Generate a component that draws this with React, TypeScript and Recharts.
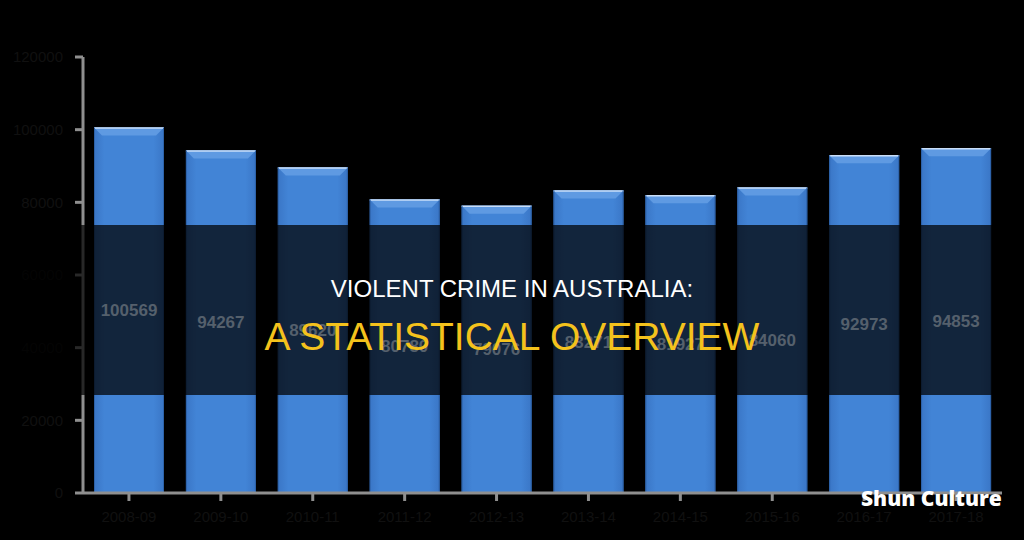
import React from 'react';
import { Bar, BarChart, LabelList, XAxis, YAxis } from 'recharts';

const years = ['2008-09', '2009-10', '2010-11', '2011-12', '2012-13', '2013-14', '2014-15', '2015-16', '2016-17', '2017-18'];
const victims = [100569, 94267, 89620, 80780, 79076, 83271, 81927, 84060, 92973, 94853];
const yTicks = [0, 20000, 40000, 60000, 80000, 100000, 120000];

const data = years.map((year, i) => ({ year, victims: victims[i] }));

const W = 1024;
const H = 540;
const margin = { top: 57, right: 22, bottom: 0, left: 0 };
const axisGray = '#8f8f8f';
const tickInk = '#101010';

// bevelled blue bar, roughly like the office-style 3D preset
function BevelBar(props: any) {
  const { x, y, width, height } = props;
  if (!height || height <= 0) return null;
  const b = 8;
  return (
    <g>
      <rect x={x} y={y} width={width} height={height} fill="url(#barFill)" />
      <polygon
        points={`${x},${y} ${x + width},${y} ${x + width - b},${y + b} ${x + b},${y + b}`}
        fill="#5f9ae2"
      />
      <line x1={x} y1={y + 0.5} x2={x + width} y2={y + 0.5} stroke="#c9def8" strokeWidth={1.5} />
      <line x1={x + 0.5} y1={y} x2={x + 0.5} y2={y + height} stroke="#2d62a8" strokeWidth={1} />
      <line x1={x + width - 0.5} y1={y} x2={x + width - 0.5} y2={y + height} stroke="#2d62a8" strokeWidth={1} />
    </g>
  );
}

const TickText = (props: any) => {
  const { x, y, payload, textAnchor } = props;
  return (
    <text x={x} y={y} dy="0.355em" textAnchor={textAnchor} fill={tickInk} fontSize={15} fontFamily="Liberation Sans, Arial, sans-serif">
      {payload.value}
    </text>
  );
};

export default function App() {
  return (
    <div style={{ position: 'absolute', left: 0, top: 0, width: W, height: H, background: '#000', overflow: 'hidden' }}>
      <BarChart width={W} height={H} data={data} margin={margin} barSize={70}>
        <defs>
          <linearGradient id="barFill" x1="0" y1="0" x2="1" y2="0">
            <stop offset="0" stopColor="#3a76c6" />
            <stop offset="0.15" stopColor="#4284d6" />
            <stop offset="0.85" stopColor="#4284d6" />
            <stop offset="1" stopColor="#3a76c6" />
          </linearGradient>
        </defs>
        <XAxis
          dataKey="year"
          height={47}
          axisLine={{ stroke: axisGray, strokeWidth: 3 }}
          tickLine={{ stroke: axisGray, strokeWidth: 3 }}
          tickSize={8}
          tick={<TickText />}
          tickMargin={16}
          interval={0}
        />
        <YAxis
          domain={[0, 120000]}
          ticks={yTicks}
          width={83}
          axisLine={{ stroke: axisGray, strokeWidth: 3 }}
          tickLine={{ stroke: axisGray, strokeWidth: 3 }}
          tickSize={8}
          tickMargin={12}
          tick={<TickText />}
        />
        <Bar dataKey="victims" shape={BevelBar} isAnimationActive={false} />
      </BarChart>

      {/* dark title band */}
      <div style={{ position: 'absolute', left: 0, top: 225, width: W, height: 170, background: 'rgba(0,0,0,0.72)' }} />

      {/* value labels sit above the band, same scales as the chart below */}
      <div style={{ position: 'absolute', left: 0, top: 0 }}>
        <BarChart width={W} height={H} data={data} margin={{ ...margin, left: 83, bottom: 47 }} barSize={70}>
          <XAxis dataKey="year" hide />
          <YAxis domain={[0, 120000]} ticks={yTicks} hide />
          <Bar dataKey="victims" fill="transparent" isAnimationActive={false}>
            <LabelList
              dataKey="victims"
              position="center"
              fill="#55606c"
              fontSize={17}
              fontWeight="bold"
              fontFamily="Liberation Sans, Arial, sans-serif"
            />
          </Bar>
        </BarChart>
      </div>

      <div
        style={{
          position: 'absolute',
          left: 0,
          width: W,
          top: 274,
          textAlign: 'center',
          color: '#fff',
          fontFamily: 'Liberation Sans, Arial, sans-serif',
          fontSize: 24,
          lineHeight: '30px',
        }}
      >
        VIOLENT CRIME IN AUSTRALIA:
      </div>
      <div
        style={{
          position: 'absolute',
          left: 0,
          width: W,
          top: 315,
          textAlign: 'center',
          color: '#f4c21c',
          fontFamily: 'Liberation Sans, Arial, sans-serif',
          fontSize: 39,
          lineHeight: '44px',
        }}
      >
        A STATISTICAL OVERVIEW
      </div>
      <div
        style={{
          position: 'absolute',
          left: 861,
          top: 484,
          color: '#fff',
          fontFamily: 'Open Sans, sans-serif',
          fontWeight: 800,
          fontSize: 21,
          lineHeight: '28px',
        }}
      >
        Shun Culture
      </div>
    </div>
  );
}
